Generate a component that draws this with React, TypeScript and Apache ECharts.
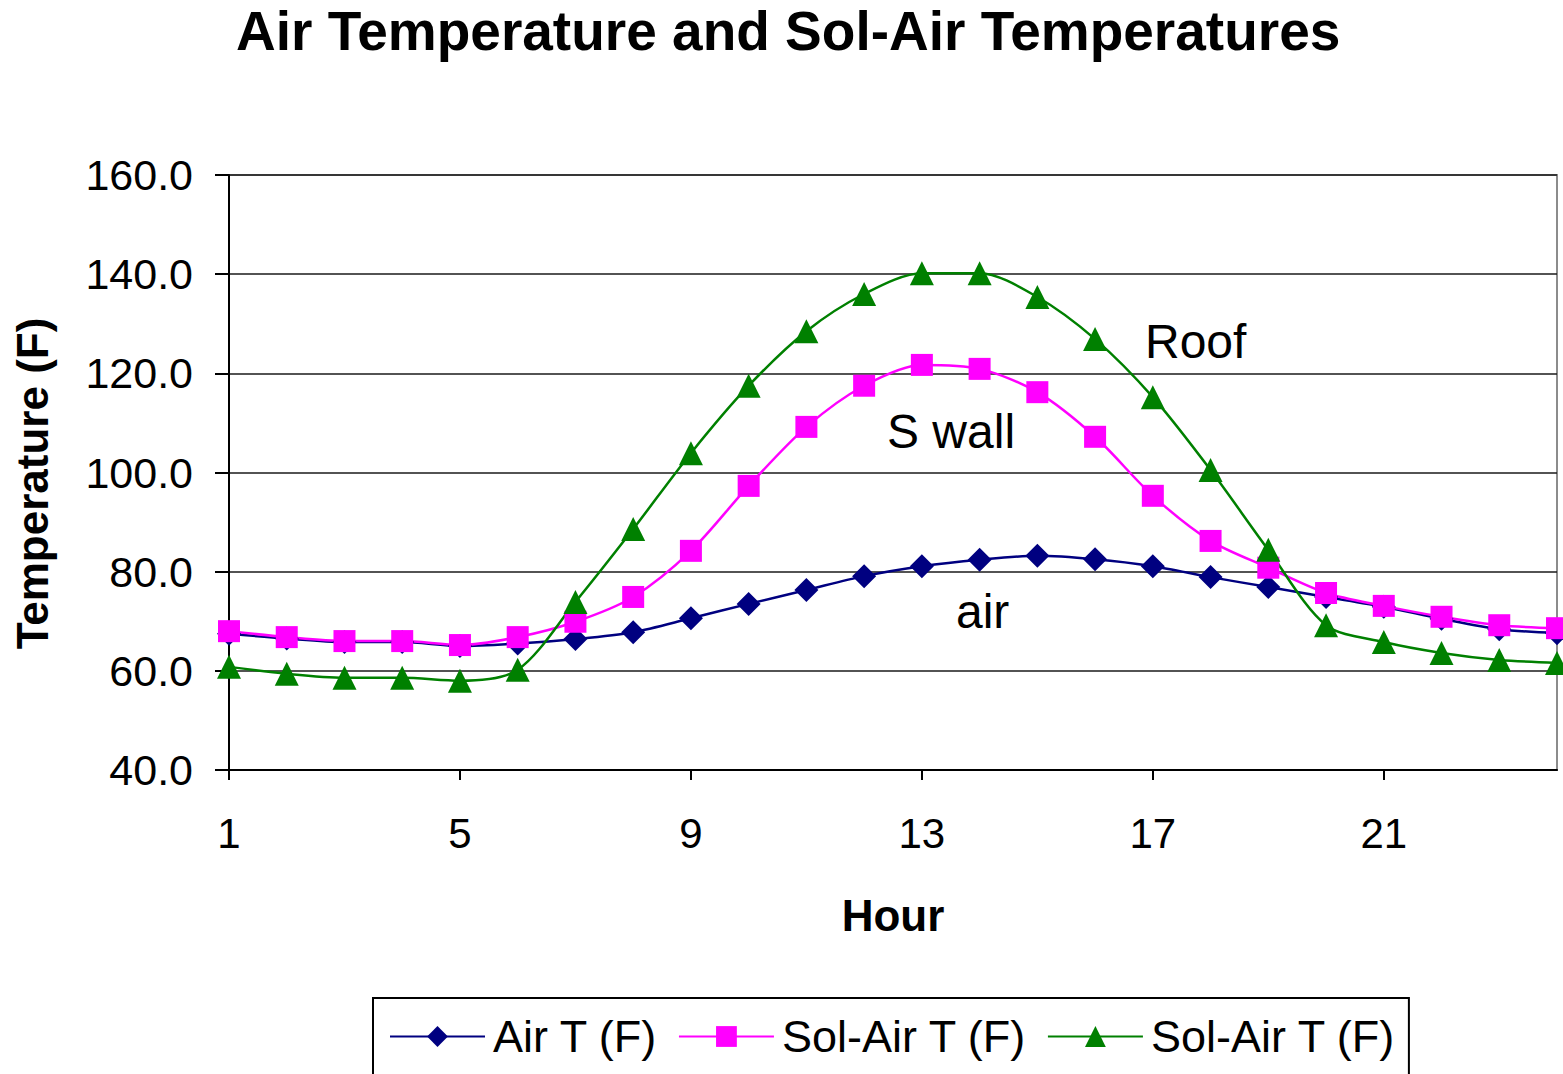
import React, { useEffect, useRef } from "react";
import * as echarts from "echarts";

const hours = ["1","2","3","4","5","6","7","8","9","10","11","12","13","14","15","16","17","18","19","20","21","22","23","24"];
const airT = [67.5, 66.5, 65.8, 65.8, 65.0, 65.5, 66.4, 67.8, 70.6, 73.5, 76.3, 79.1, 81.1, 82.4, 83.2, 82.5, 81.1, 78.9, 76.9, 74.9, 72.9, 70.5, 68.4, 67.6];
const solAirSWall = [68.0, 66.8, 66.0, 66.0, 65.2, 66.8, 69.9, 74.9, 84.2, 97.3, 109.2, 117.5, 121.7, 120.9, 116.2, 107.2, 95.3, 86.2, 80.8, 75.7, 73.1, 70.9, 69.2, 68.6];
const solAirRoof = [60.8, 59.4, 58.6, 58.6, 58.0, 60.2, 73.9, 88.6, 103.9, 117.5, 128.5, 136.0, 140.2, 140.2, 135.4, 126.9, 115.2, 100.5, 84.4, 69.2, 65.8, 63.6, 62.2, 61.6];
const seriesNames = ["Air T (F)", "Sol-Air T (F) S wall", "Sol-Air T (F) Roof"];
const legendLabels: Record<string, string> = {
  "Air T (F)": "Air T (F)",
  "Sol-Air T (F) S wall": "Sol-Air T (F)",
  "Sol-Air T (F) Roof": "Sol-Air T (F)",
};
const annotations = [
  { text: "Roof", x: 1145, y: 343 },
  { text: "S wall", x: 887, y: 433 },
  { text: "air", x: 956, y: 613 },
];

const FONT = "'Liberation Sans', Arial, sans-serif";

export default function App() {
  const ref = useRef<HTMLDivElement>(null);
  useEffect(() => {
    document.body.style.margin = "0";
    const chart = echarts.init(ref.current!, null, { renderer: "svg" });
    const mk = (name: string, data: number[], color: string, symbol: string, size: number) => ({
      name,
      type: "line",
      data,
      smooth: 0.3,
      symbol,
      symbolSize: size,
      showAllSymbol: true,
      lineStyle: { color, width: 2.5 },
      itemStyle: { color },
    });
    chart.setOption({
      animation: false,
      backgroundColor: "#ffffff",
      textStyle: { fontFamily: FONT },
      title: {
        text: "Air Temperature and Sol-Air Temperatures",
        left: 231,
        top: -2,
        textStyle: { fontFamily: FONT, fontWeight: "bold", fontSize: 55, color: "#000" },
      },
      grid: {
        left: 229,
        right: 6,
        top: 175,
        bottom: 304,
        show: true,
        borderColor: "#8c8c8c",
        borderWidth: 2,
      },
      legend: {
        data: seriesNames,
        left: 373,
        top: 998,
        padding: [16, 13, 40, 16],
        itemGap: 20,
        itemWidth: 95,
        itemHeight: 26,
        borderColor: "#000",
        borderWidth: 2,
        formatter: (n: string) => legendLabels[n],
        textStyle: { fontFamily: FONT, fontSize: 45, color: "#000", padding: [0, 0, 0, 3] },
      },
      xAxis: {
        type: "category",
        data: hours,
        boundaryGap: false,
        name: "Hour",
        nameLocation: "middle",
        nameGap: 123,
        nameTextStyle: { fontFamily: FONT, fontWeight: "bold", fontSize: 44, color: "#000" },
        axisLine: { lineStyle: { color: "#000", width: 2 } },
        axisTick: { show: true, interval: 3, length: 10, lineStyle: { color: "#000", width: 2 } },
        axisLabel: { interval: 3, margin: 42, fontSize: 42, color: "#000", fontFamily: FONT },
        splitLine: { show: false },
      },
      yAxis: {
        type: "value",
        min: 40,
        max: 160,
        interval: 20,
        name: "Temperature (F)",
        nameLocation: "middle",
        nameGap: 175,
        nameRotate: 90,
        nameTextStyle: {
          fontFamily: FONT,
          fontWeight: "bold",
          fontSize: 44,
          color: "#000",
          padding: [0, 22, 0, 0],
        },
        axisLine: { show: true, lineStyle: { color: "#000", width: 2 } },
        axisTick: { show: true, inside: false, length: 14, lineStyle: { color: "#000", width: 2 } },
        axisLabel: {
          margin: 36,
          fontSize: 43,
          color: "#000",
          fontFamily: FONT,
          formatter: (v: number) => v.toFixed(1),
        },
        splitLine: { show: true, lineStyle: { color: "#1a1a1a", width: 1.5 } },
      },
      graphic: annotations.map((a) => ({
        type: "text",
        left: a.x,
        top: a.y - 26,
        z: 100,
        style: { text: a.text, fontFamily: FONT, fontSize: 48, fill: "#000" },
      })),
      series: [
        mk(seriesNames[0], airT, "#000080", "diamond", 24),
        mk(seriesNames[1], solAirSWall, "#ff00ff", "rect", 22),
        mk(seriesNames[2], solAirRoof, "#008000", "triangle", 24),
      ],
    });
    return () => chart.dispose();
  }, []);
  return <div ref={ref} style={{ position: "fixed", left: 0, top: 0, width: 1563, height: 1074 }} />;
}
